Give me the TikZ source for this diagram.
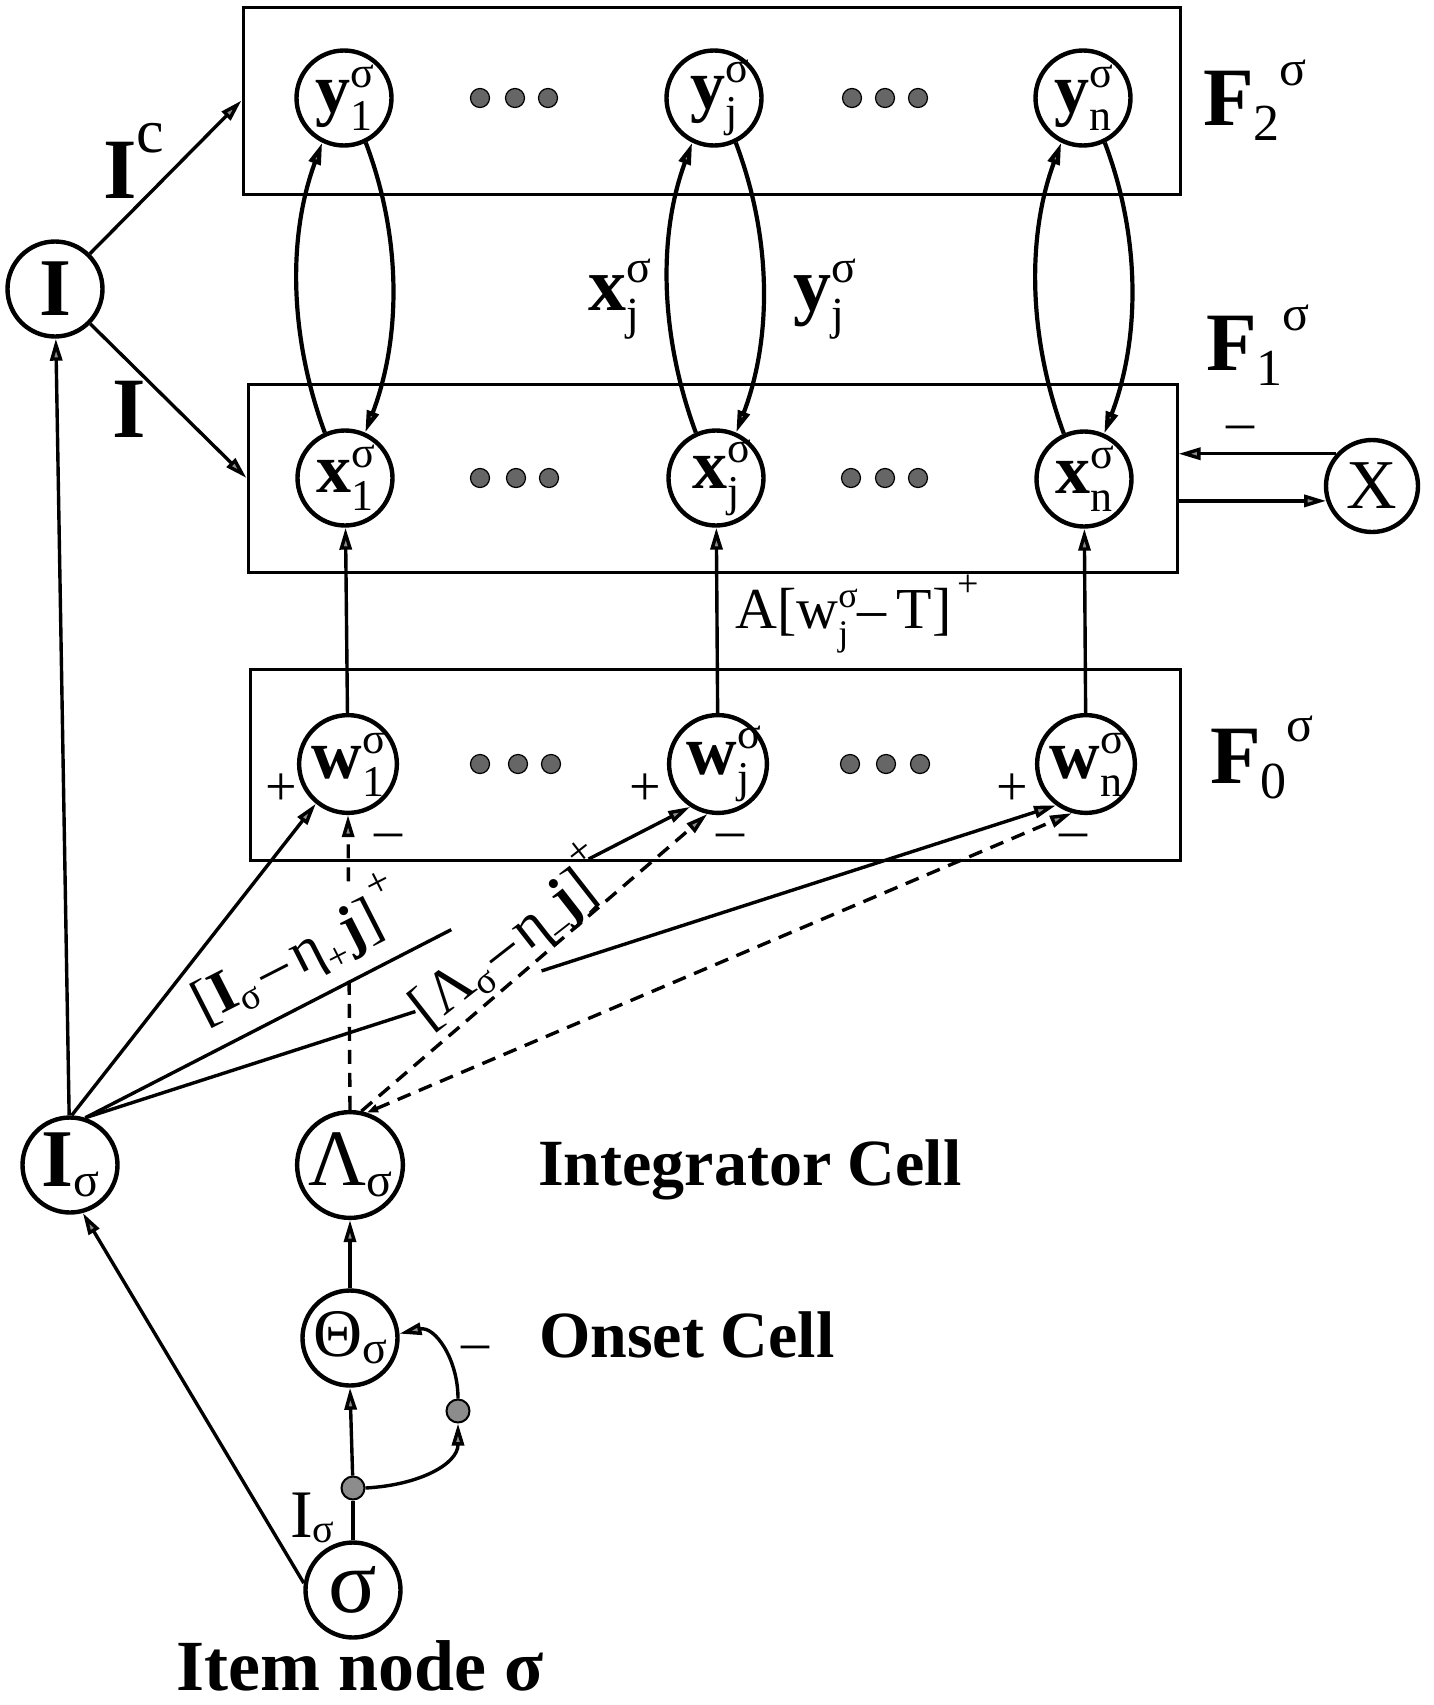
\documentclass[tikz,border=0pt]{standalone}
\usepackage{fontspec}
\setmainfont{Liberation Serif}
\usetikzlibrary{arrows.meta,calc}
\newcommand{\fs}[1]{\fontsize{#1}{#1}\selectfont}
\newcommand{\cellab}[4]{{\bfseries #1}\rlap{\raisebox{0.36em}{\fs{#4}#3}}\raisebox{-0.26em}{\fs{#4}#2}}
\begin{document}
\begin{tikzpicture}[x=1pt,y=-1pt,
  unit/.style={circle,draw,line width=4.4pt,fill=white,minimum size=95pt,inner sep=0pt,font=\fs{70}},
  layerbox/.style={draw,line width=3pt,inner sep=0pt},
  dotn/.style={circle,draw,line width=1.2pt,fill=black!60,minimum size=19pt,inner sep=0pt},
  sdot/.style={circle,draw,line width=2pt,fill=black!45,minimum size=23pt,inner sep=0pt},
  con/.style={line width=3.4pt},
  tip/.style={-{Triangle[length=22pt,width=12pt,fill=black!45]}},
  arr/.style={con,tip},
  dashline/.style={con,dash pattern=on 14pt off 9pt},
  darr/.style={dashline,tip},
  loopline/.style={line width=4.2pt,tip},
  txt/.style={inner sep=0pt,anchor=base west},
  plusmark/.style={inner sep=0pt,font=\fs{56}},
  minusmark/.style={inner sep=0pt,font=\fs{56},anchor=base},
]
\useasboundingbox (0,0) rectangle (1434,1705);

% layer boxes
\node[layerbox,minimum width=937pt,minimum height=187pt] (F2) at (711.5,100.5) {};
\node[layerbox,minimum width=929pt,minimum height=188pt] (F1) at (712.5,478) {};
\node[layerbox,minimum width=930pt,minimum height=191pt] (F0) at (715,764.5) {};

% F2 units
\node[unit] (y1) at (344,98) {\cellab{y}{1}{σ}{44}};
\node[unit] (yj) at (714,98) {\cellab{y}{j}{σ}{44}};
\node[unit] (yn) at (1083,98) {\cellab{y}{n}{σ}{44}};
% F1 units
\node[unit] (x1) at (345,478) {\cellab{x}{1}{σ}{44}};
\node[unit] (xj) at (716,478) {\cellab{x}{j}{σ}{44}};
\node[unit] (xn) at (1084,479) {\cellab{x}{n}{σ}{44}};
% F0 units
\node[unit] (W1) at (348,764) {\cellab{w}{1}{σ}{44}};
\node[unit] (Wj) at (718,764) {\cellab{w}{j}{σ}{44}};
\node[unit] (Wn) at (1086,764) {\cellab{w}{n}{σ}{44}};

% other cells
\node[unit,font=\fs{82}\bfseries] (I) at (55,289) {I};
\node[unit,minimum size=92pt,font=\fs{70}] (X) at (1372,486) {X};
\node[unit,font=\fs{82}] (Is) at (70,1165) {{\bfseries I}\raisebox{-0.12em}{\fs{48}σ}};
\node[unit,font=\fs{80}] (Lam) at (350,1165) {Λ\raisebox{-0.14em}{\fs{48}σ}};
\node[unit,font=\fs{68}] (The) at (350,1338) {Θ\raisebox{-0.1em}{\fs{46}σ}};
\node[unit,font=\fs{90}] (sig) at (353,1590) {σ};

% ellipsis dots
\foreach \px [count=\k] in {480,515,548,852,885,918} \node[dotn] (da\k) at (\px,98) {};
\foreach \px [count=\k] in {480,516,549,851,885,918} \node[dotn] (db\k) at (\px,478) {};
\foreach \px [count=\k] in {480,518,551,850,886,920} \node[dotn] (dc\k) at (\px,764) {};

% onset small dots
\node[sdot] (d1) at (353,1488) {};
\node[sdot] (d2) at (458,1411) {};

% loops and upward signals
\foreach \c in {1,j,n} {
  \draw[loopline] (x\c.114) .. controls +(-35,-95) and +(-35,95) .. (y\c.244);
  \draw[loopline] (y\c.296) .. controls +(36,95) and +(36,-95) .. (x\c.66);
  \draw[arr] (W\c) -- (x\c);
}

% I cell
\draw[arr] (I) -- (F2.west);
\draw[arr] (I) -- (F1.west);
\draw[arr] (Is) -- (I);
\draw[arr] (sig.172) -- (Is.285);

% X cell
\draw[arr] (X.138) -- (X.138 -| F1.east);
\draw[arr] (X.198 -| F1.east) -- (X.198);

% I_sigma to w
\draw[arr] (Is.88) -- (W1.231);
\draw[con] (Is.72) -- ($(Is.72)!0.605!(Wj.237)$);
\draw[arr] ($(Is.72)!0.832!(Wj.237)$) -- (Wj.237);
\draw[con] (Is.72) -- ($(Is.72)!0.34!(Wn.234)$);
\draw[arr] ($(Is.72)!0.47!(Wn.234)$) -- (Wn.234);

% Lambda to w (dashed)
\draw[dashline] (Lam.north) -- ($(Lam.north)!0.443!(W1.south)$);
\draw[darr] ($(Lam.north)!0.775!(W1.south)$) -- (W1.south);
\draw[darr] (Lam.78) -- (Wj.258);
\draw[darr,{Triangle[open,length=11pt,width=8pt]}-{Triangle[length=22pt,width=12pt,fill=black!45]}] (Lam.72) -- (Wn.254);

% onset circuit
\draw[con] (sig.north) -- (d1);
\draw[arr] (d1) -- (The.south);
\draw[arr] (The.north) -- (Lam.south);
\draw[arr] (d1.east) .. controls +(55,-3) and +(0,40) .. (d2.south);
\draw[arr] (d2.north) .. controls +(0,-40) and +(35,-8) .. (The.5);

% labels
\node[txt,font=\fs{86}] (lIc) at (103,198) {{\bfseries I}\raisebox{0.53em}{\fs{62}c}};
\node[txt,font=\fs{86}\bfseries] (lI) at (112,437) {I};
\node[txt,font=\fs{76}] (lxj) at (588,310) {\cellab{x}{j}{σ}{46}};
\node[txt,font=\fs{76}] (lyj) at (793,310) {\cellab{y}{j}{σ}{46}};
\node[txt,font=\fs{83}] (lF2) at (1203,125) {{\bfseries F}\raisebox{-0.19em}{\fs{52}2}\raisebox{0.47em}{\fs{50}σ}};
\node[txt,font=\fs{83}] (lF1) at (1206,370) {{\bfseries F}\raisebox{-0.19em}{\fs{52}1}\raisebox{0.47em}{\fs{50}σ}};
\node[txt,font=\fs{83}] (lF0) at (1210,783) {{\bfseries F}\raisebox{-0.19em}{\fs{52}0}\raisebox{0.5em}{\fs{50}σ}};
\node[minusmark] (mX) at (1240,440) {–};
\node[txt,font=\fs{58}] (lA) at (735,628) {A[w\rlap{\raisebox{0.36em}{\fs{36}σ}}\raisebox{-0.3em}{\fs{36}j}\,–\,T]\raisebox{0.55em}{\fs{38}\,+}};

\node[plusmark] (p1) at (281,790) {+};
\node[plusmark] (pj) at (645,790) {+};
\node[plusmark] (pn) at (1012,790) {+};
\node[minusmark] (m1) at (388,848) {–};
\node[minusmark] (mj) at (730,848) {–};
\node[minusmark] (mn) at (1073,848) {–};

\node[inner sep=0pt,rotate=27,font=\fs{60}] (lab1) at (297,952)
  {[{\bfseries I}\raisebox{-0.15em}{\fs{38}σ}\hspace{0.12em}–\hspace{0.12em}η\raisebox{-0.22em}{\fs{38}+}\hspace{0.05em}{\bfseries j}]\hspace{0.05em}\raisebox{0.55em}{\fs{42}+}};
\node[inner sep=0pt,rotate=38,font=\fs{60}] (lab2) at (510,938)
  {[Λ\raisebox{-0.15em}{\fs{38}σ}\hspace{0.1em}–\hspace{0.1em}η\raisebox{-0.22em}{\fs{38}–}{\bfseries j}]\raisebox{0.55em}{\fs{42}+}};

\node[txt,font=\fs{66}\bfseries] (integ) at (538,1185) {Integrator Cell};
\node[txt,font=\fs{66}\bfseries] (onset) at (539,1357) {Onset Cell};
\node[minusmark] (mO) at (475,1360) {–};
\node[txt,font=\fs{68}] (lIs) at (290,1537) {I\raisebox{-0.08em}{\fs{40}σ}};
\node[inner sep=0pt,anchor=base,font=\fs{72}\bfseries] (item) at (360,1690) {Item node σ};
\end{tikzpicture}
\end{document}
